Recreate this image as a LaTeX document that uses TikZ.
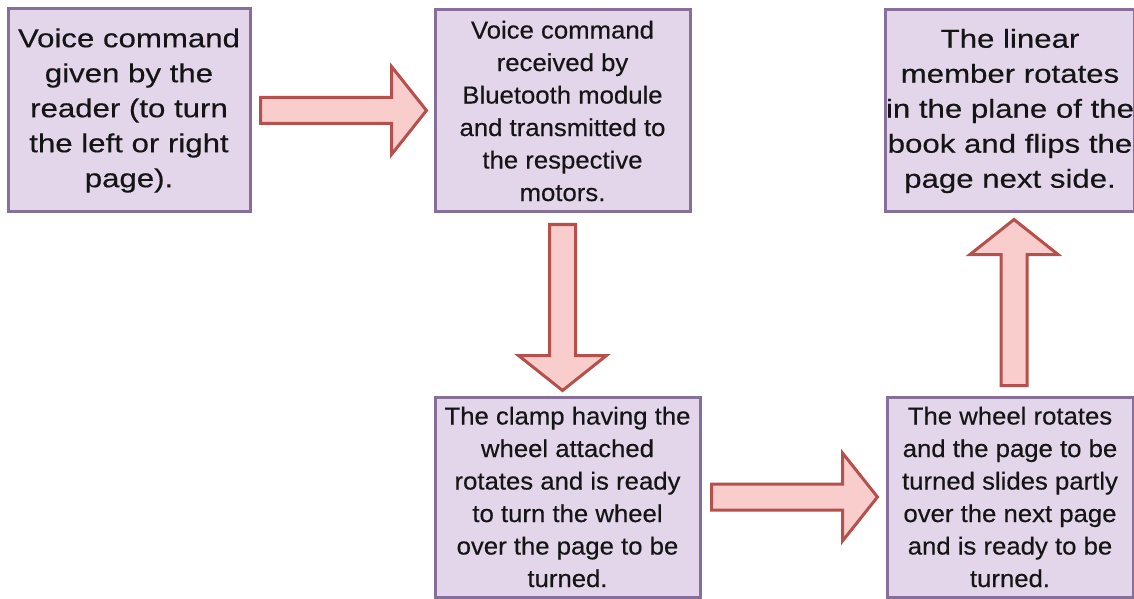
\documentclass[tikz,border=0pt]{standalone}
\usepackage{fontspec}
\usepackage{tikz}
\newfontfamily\widefont{Liberation Sans}[FakeStretch=1.2, FakeBold=0.4]
\newfontfamily\narrowfont{Liberation Sans}[FakeStretch=1.05, FakeBold=0.4]
\definecolor{boxfill}{HTML}{E3D6EA}
\definecolor{boxline}{HTML}{86709A}
\definecolor{arrfill}{HTML}{F8CDCB}
\definecolor{arrline}{HTML}{B5504C}
\definecolor{txt}{HTML}{151515}

\newcommand{\bigarrow}[2]{%
  \draw[arrowbody, shift={(#1)}, rotate=#2] (0,-13) -- (131,-13) -- (131,-44) -- (166,0)
    -- (131,44) -- (131,13) -- (0,13) -- cycle;}

\begin{document}
\begin{tikzpicture}[x=1pt, y=1pt,
    stepbox/.style={draw=boxline, fill=boxfill, line width=3pt, inner sep=0pt, align=center, text=txt},
    wide/.style={font={\widefont\fontsize{26}{35}\selectfont}},
    narrow/.style={font={\narrowfont\fontsize{24.5}{32.5}\selectfont}},
    arrowbody/.style={draw=arrline, fill=arrfill, line width=3pt, line join=miter}]
    \useasboundingbox (0,0) rectangle (1134,598);
    \node[stepbox, wide, minimum width=242pt, minimum height=203pt] (voice) at (129,487.5)
      {Voice command\\given by the\\reader (to turn\\the left or right\\page).};
    \node[stepbox, narrow, minimum width=255pt, minimum height=202pt] (bluetooth) at (562.5,487)
      {Voice command\\received by\\Bluetooth module\\and transmitted to\\the respective\\motors.};
    \node[stepbox, wide, minimum width=246pt, minimum height=202pt] (flip) at (1010,487)
      {The linear\\member rotates\\in the plane of the\\book and flips the\\page next side.};
    \node[stepbox, narrow, minimum width=265pt, minimum height=200pt] (clamp) at (567.5,101)
      {The clamp having the\\wheel attached\\rotates and is ready\\to turn the wheel\\over the page to be\\turned.};
    \node[stepbox, narrow, minimum width=246pt, minimum height=200pt] (wheel) at (1010,101)
      {The wheel rotates\\and the page to be\\turned slides partly\\over the next page\\and is ready to be\\turned.};
    % block arrows between the steps
    \coordinate (a1) at ([xshift=9pt]voice.east);
    \coordinate (a2) at ([yshift=-11pt]bluetooth.south);
    \coordinate (a3) at ([xshift=10pt]clamp.east);
    \coordinate (a4) at ([xshift=4pt,yshift=10pt]wheel.north);
    \bigarrow{a1}{0}
    \bigarrow{a2}{-90}
    \bigarrow{a3}{0}
    \bigarrow{a4}{90}
\end{tikzpicture}
\end{document}
